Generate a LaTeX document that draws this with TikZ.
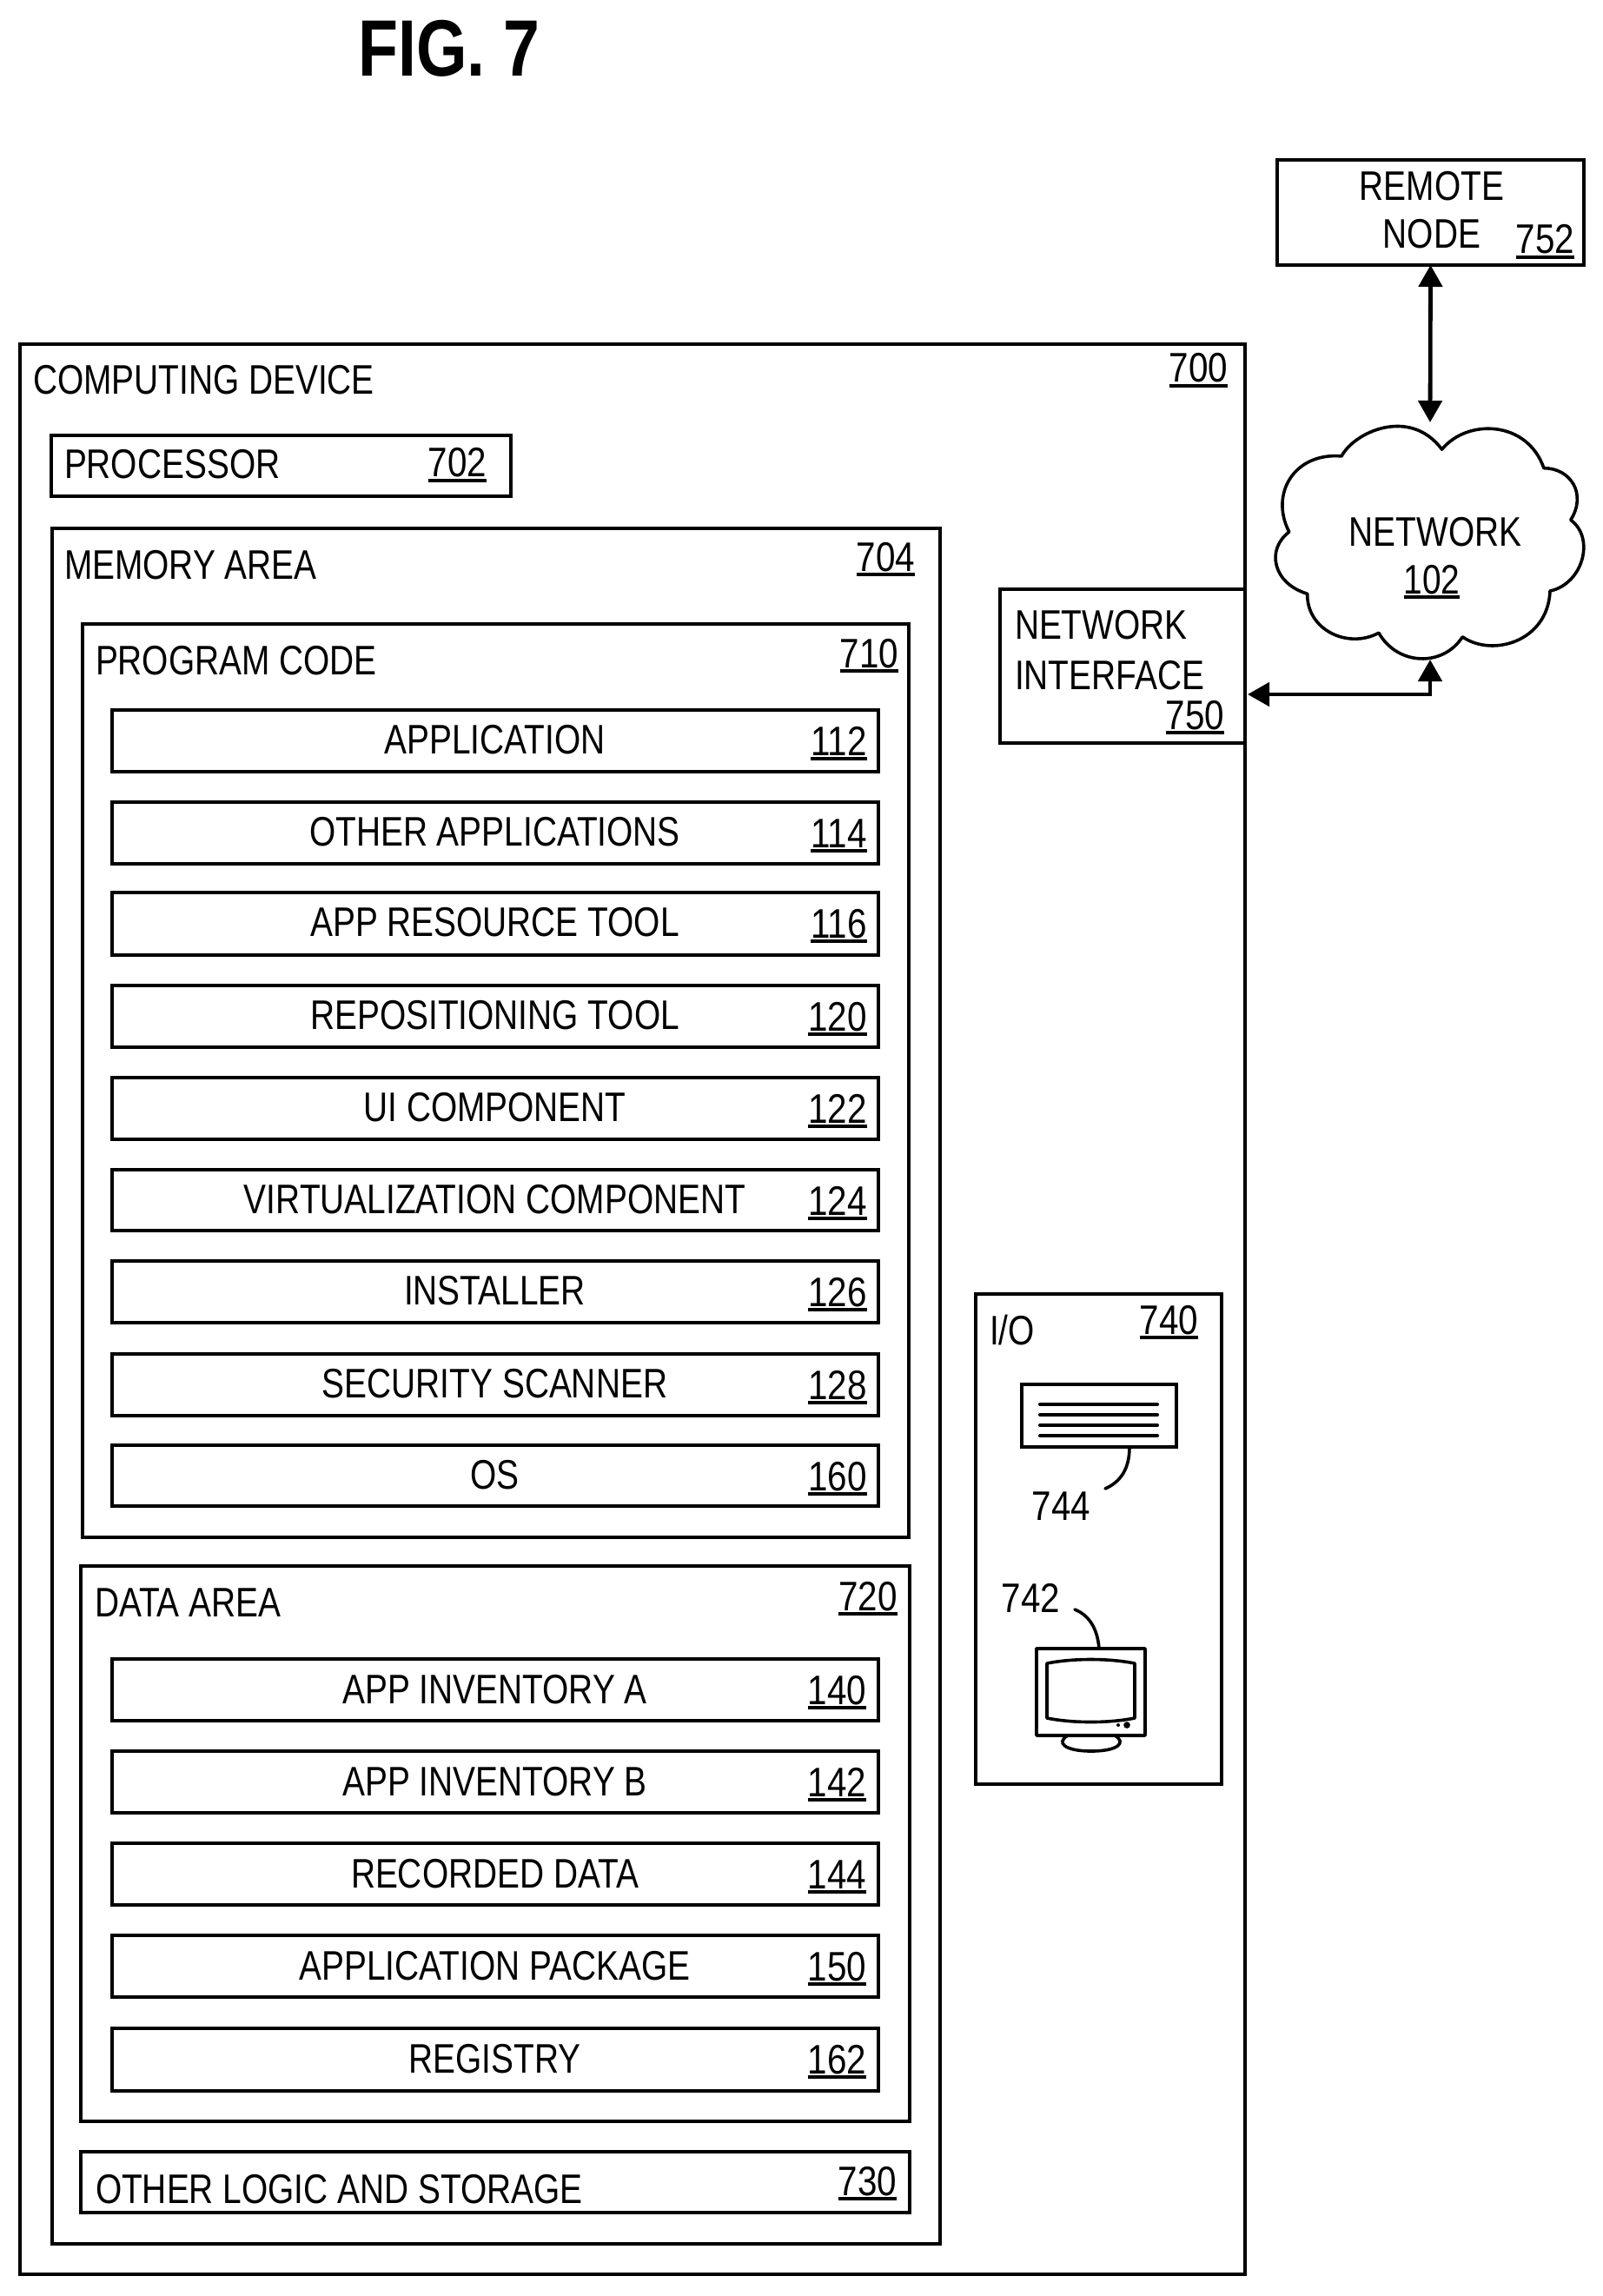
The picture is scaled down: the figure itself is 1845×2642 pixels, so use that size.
\documentclass[tikz,border=0pt]{standalone}
\usepackage{fontspec}
\setmainfont[FakeStretch=0.818]{Liberation Sans}
\newfontfamily\digitfont[FakeStretch=0.85]{Liberation Sans}
\usetikzlibrary{arrows.meta}
\newcommand{\refnum}[1]{\setbox0=\hbox{#1}\leavevmode\rlap{\raisebox{-2.8pt}{\rule{\wd0}{2pt}}}\box0 }
\newcommand{\bx}[6][]{\node[boxed,#1,anchor=north west,minimum width={(#5-#3)*0.5pt},minimum height={(#6-#4)*0.5pt}] (#2) at (#3,#4) {};}
\tikzset{
  boxed/.style={draw=black,fill=white,line width=2.1pt,rectangle,inner sep=0pt,outer sep=0pt},
  itembox/.style={line width=2.4pt},
  lab/.style={anchor=base west,inner sep=0pt,outer sep=0pt,font=\fontsize{23.75}{28}\selectfont},
  mid/.style={anchor=base,inner sep=0pt,outer sep=0pt,font=\fontsize{23.75}{28}\selectfont},
  num/.style={anchor=base east,inner sep=0pt,outer sep=0pt,font=\digitfont\fontsize{23.75}{28}\selectfont},
  biarrow/.style={line width=2.4pt,{Triangle[length=12.5pt,width=13.5pt]}-{Triangle[length=12.5pt,width=13.5pt]}},
  leader/.style={line width=1.8pt,line cap=round},
  thinline/.style={line width=1.8pt,line join=round},
}
\begin{document}
\begin{tikzpicture}[x=0.5pt,y=-0.5pt]
\useasboundingbox (0,0) rectangle (1845,2642);
\fill[white] (0,0) rectangle (1845,2642);
% title
\node[anchor=base west,inner sep=0pt,font=\fontsize{46}{50}\selectfont\bfseries] (fig) at (412,88) {FIG. 7};
% remote node
\bx{remote}{1470}{184}{1823}{305}
\node[mid] (remotea) at (1648,231) {REMOTE};
\node[mid] (remoteb) at (1648,286) {NODE};
\node[num] (n752) at (1812,292) {\refnum{752}};
% computing device
\bx{device}{23}{396}{1433}{2617}
\node[lab] (devicet) at (38,454) {COMPUTING DEVICE};
\node[num] (n700) at (1413,440) {\refnum{700}};
% processor
\bx{proc}{59}{501}{588}{571}
\node[lab] (proct) at (74,551) {PROCESSOR};
\node[num] (n702) at (560,549) {\refnum{702}};
% memory
\bx{mem}{60}{608}{1082}{2582}
\node[lab] (memt) at (74,666) {MEMORY AREA};
\node[num] (n704) at (1053,657) {\refnum{704}};
% program code
\bx{code}{95}{718}{1046}{1769}
\node[lab] (codet) at (110,776) {PROGRAM CODE};
\node[num] (n710) at (1034,768) {\refnum{710}};
\foreach \lbl/\top/\bot/\code in {
  APPLICATION/817/888/112,
  OTHER APPLICATIONS/923/994/114,
  APP RESOURCE TOOL/1027/1099/116,
  REPOSITIONING TOOL/1134/1205/120,
  UI COMPONENT/1240/1311/122,
  VIRTUALIZATION COMPONENT/1346/1416/124,
  INSTALLER/1451/1522/126,
  SECURITY SCANNER/1558/1629/128,
  OS/1663/1733/160}{
  \bx[itembox]{i\code}{129}{\top}{1011}{\bot}
  \node[mid] (t\code) at (569.5,\top+50.5) {\lbl};
  \node[num] (n\code) at (997.5,\top+52) {\refnum{\code}};
}
% data area
\bx{data}{93}{1802}{1047}{2441}
\node[lab] (datat) at (109,1860) {DATA AREA};
\node[num] (n720) at (1032.5,1853) {\refnum{720}};
\foreach \lbl/\top/\bot/\code in {
  APP INVENTORY A/1909/1980/140,
  APP INVENTORY B/2015/2086/142,
  RECORDED DATA/2121/2192/144,
  APPLICATION PACKAGE/2227/2298/150,
  REGISTRY/2334/2406/162}{
  \bx[itembox]{i\code}{129}{\top}{1011}{\bot}
  \node[mid] (t\code) at (569.5,\top+51.5) {\lbl};
  \node[num] (n\code) at (997,\top+52) {\refnum{\code}};
}
% other logic
\bx{other}{93}{2476}{1047}{2546}
\node[lab] (othert) at (110,2535) {OTHER LOGIC AND STORAGE};
\node[num] (n730) at (1032,2526) {\refnum{730}};
% network interface
\bx{nif}{1151}{678}{1433}{855}
\node[lab] (nifa) at (1168,735) {NETWORK};
\node[lab] (nifb) at (1168,793) {INTERFACE};
\node[num] (n750) at (1409,839) {\refnum{750}};
% cloud
\begin{scope}[shift={(1100,160)},xscale=0.475,yscale=0.459]
\draw[thinline]
 (935,795) .. controls (965,735) and (1100,670) .. (1178,778)
 .. controls (1240,700) and (1385,705) .. (1425,825)
 .. controls (1490,825) and (1530,890) .. (1490,955)
 .. controls (1550,1000) and (1520,1115) .. (1440,1133)
 .. controls (1435,1260) and (1300,1300) .. (1228,1248)
 .. controls (1180,1325) and (1070,1320) .. (1025,1238)
 .. controls (950,1280) and (850,1230) .. (852,1140)
 .. controls (770,1115) and (750,1030) .. (808,985)
 .. controls (760,890) and (820,785) .. (935,795) -- cycle;
\end{scope}
\node[inner sep=0pt,outer sep=0pt,minimum width=178pt,minimum height=136.5pt] (net) at (1646,622.5) {};
\node[mid] (nett) at (1652,628) {NETWORK};
\node[mid] (n102) at (1648,683) {\refnum{102}};
% connectors
\draw[biarrow] (remote.south) -- (net.north);
\coordinate (nifport) at (1436,799);
\draw[biarrow,line join=miter] (nifport) -| (net.south);
% I/O
\bx{io}{1123}{1489}{1406}{2053}
\node[lab] (iot) at (1139,1547) {I/O};
\node[num] (n740) at (1379,1535) {\refnum{740}};
\bx[itembox]{kbd}{1176}{1593}{1354}{1665}
\foreach \yy in {1616,1628,1640,1652}{\draw[line width=2pt,line cap=round] (1197,\yy) -- (1332,\yy);}
\coordinate (kbdtail) at (1300,1665);
\coordinate (kbdend) at (1272,1713);
\draw[leader] (kbdtail) .. controls (1300,1690) and (1290,1705) .. (kbdend);
\node[num] (n744) at (1255,1749) {744};
\node[num] (n742) at (1220,1855) {742};
\coordinate (montail) at (1265,1897);
\coordinate (monend) at (1237,1852);
\draw[leader] (monend) .. controls (1252,1858) and (1263,1872) .. (montail);
\bx[thinline]{mon}{1193}{1897}{1318}{1997}
\draw[thinline] (1205,1914) .. controls (1235,1908) and (1276,1908) .. (1306,1914)
  -- (1306,1977) .. controls (1276,1983) and (1235,1983) .. (1205,1977) -- cycle;
\fill (1287,1985) circle (2);
\fill (1297,1985) circle (3.8);
\draw[thinline] (1229,1997) .. controls (1215,2005) and (1225,2015) .. (1256,2015)
  .. controls (1287,2015) and (1297,2005) .. (1283,1997);
\end{tikzpicture}
\end{document}
